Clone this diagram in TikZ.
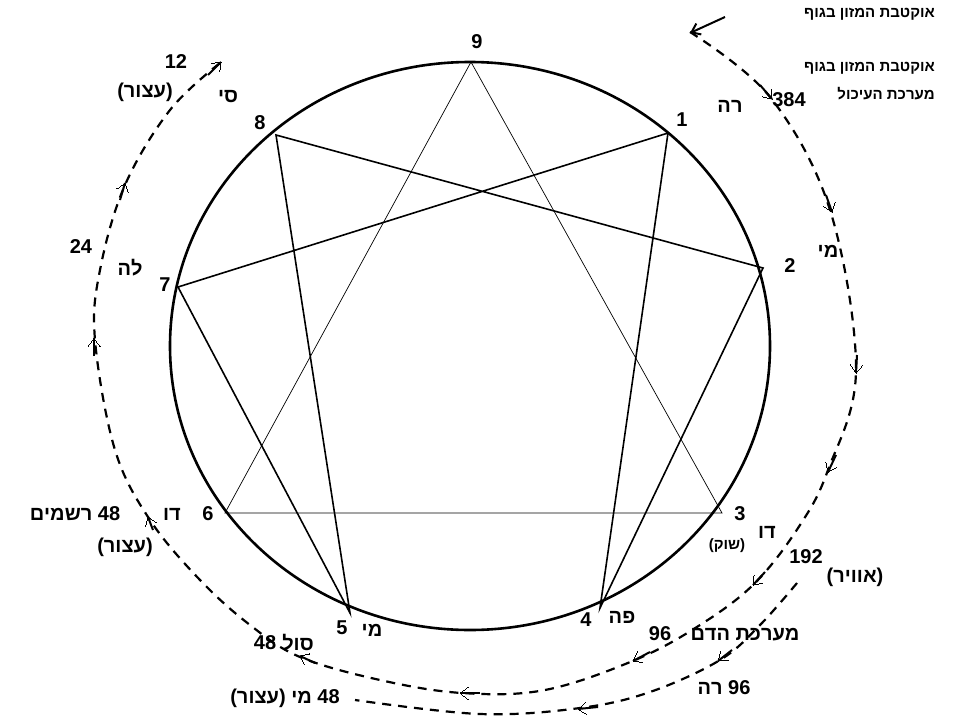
\documentclass[tikz,border=0pt]{standalone}
\usepackage{fontspec}
\setmainfont{Liberation Sans}
\TeXXeTstate=1
\usetikzlibrary{decorations.markings,arrows.meta}
\newcommand{\R}[1]{\beginR #1\endR}
\begin{document}
\begin{tikzpicture}[x=1pt,y=-1pt,
  lbl/.style={font=\bfseries\fontsize{20}{22}\selectfont,inner sep=0pt},
  sml/.style={font=\bfseries\fontsize{15}{17}\selectfont,inner sep=0pt},
  dsh/.style={line width=2.2pt,dash pattern=on 9pt off 7pt},
  ah/.style={-{Straight Barb[length=9pt,width=12pt,line width=1.8pt]}},
  star/.style={line width=1.6pt},
  thin/.style={line width=0.7pt}]
\useasboundingbox (0,0) rectangle (960,720);
\draw[line width=2.6pt] (470,346) ellipse [x radius=300, y radius=284];
\coordinate (p9) at (471,62);
\coordinate (p1) at (668,133);
\coordinate (p2) at (763,268);
\coordinate (p3) at (722,513);
\coordinate (p4) at (600,608);
\coordinate (p5) at (350,613);
\coordinate (p6) at (225,513);
\coordinate (p7) at (178,287);
\coordinate (p8) at (276,135);
\draw[thin] (p9)--(p3)--(p6)--cycle;
\draw[star] (p1)--(p4)--(p2)--(p8)--(p5)--(p7)--cycle;
% outer dashed curve
\draw[dsh] plot[smooth,tension=0.6] coordinates {(690,32) (770,97) (830,210) (856,370) (828,470) (800,525) (755,583) (700,625) (635,660) (545,690) (462,693) (380,680) (300,657) (250,625) (200,580) (150,520) (115,450) (95,340) (100,270) (125,185) (170,110) (220,63)};
% second dashed curve
\draw[dsh] plot[smooth,tension=0.6] coordinates {(797,583) (760,625) (720,660) (650,692) (580,708) (480,714) (355,700)};
% arrowheads
\foreach \a/\b in {{(760,85)}/{(772,99)},{(826,195)}/{(832,212)},{(857,355)}/{(856,373)},{(836,455)}/{(828,472)},{(765,572)}/{(753,585)},{(650,652)}/{(633,661)},{(480,693)}/{(460,693)},{(315,663)}/{(300,656)},{(153,530)}/{(148,517)},{(94,356)}/{(94,338)},{(120,200)}/{(125,183)},{(208,75)}/{(221,62)},{(732,650)}/{(718,661)},{(598,707)}/{(578,709)}}
  \draw[ah,line width=0pt,draw opacity=0] \a -- \b;
\foreach \a/\b in {{(760,85)}/{(772,99)},{(826,195)}/{(832,212)},{(857,355)}/{(856,373)},{(836,455)}/{(828,472)},{(765,572)}/{(753,585)},{(650,652)}/{(633,661)},{(480,693)}/{(460,693)},{(315,663)}/{(300,656)},{(153,530)}/{(148,517)},{(94,356)}/{(94,338)},{(120,200)}/{(125,183)},{(208,75)}/{(221,62)},{(732,650)}/{(718,661)},{(598,707)}/{(578,709)}}
  \draw[-{Straight Barb[length=8pt,width=12pt,line width=0pt]},line width=2pt] \a -- \b;
% solid pointer arrow
\node[sml,anchor=east] (t1) at (935,14) {\R{אוקטבת המזון בגוף}};
\coordinate (st) at (690,33);
\draw[-{Straight Barb[length=8pt,width=12pt]},line width=2pt] (725,17) -- (st);
\node[sml,anchor=east] (t2) at (935,68) {\R{אוקטבת המזון בגוף}};
\node[sml,anchor=east] (t3) at (935,94) {\R{מערכת העיכול}};
% numbers
\node[lbl] (n9) at (477,42) {9};
\node[lbl] (n1) at (682,120) {1};
\node[lbl] (n2) at (790,266) {2};
\node[lbl] (n3) at (740,514) {3};
\node[lbl] (n4) at (586,620) {4};
\node[lbl] (n5) at (342,628) {5};
\node[lbl] (n6) at (208,514) {6};
\node[lbl] (n7) at (165,285) {7};
\node[lbl] (n8) at (260,123) {8};
% notes
\node[lbl] (re) at (730,106) {\R{רה}};
\node[lbl] (n384) at (789,100) {384};
\node[lbl] (mi) at (828,251) {\R{מי}};
\node[lbl] (do3) at (767,532) {\R{דו}};
\node[sml] (shuk) at (727,546) {(\R{שוק})};
\node[lbl] (n192) at (806,557) {192};
\node[lbl] (avir) at (855,577) {(\R{אוויר})};
\node[lbl] (pe) at (622,617) {\R{פה}};
\node[lbl] (n96a) at (660,634) {96};
\node[lbl] (dam) at (745,635) {\R{מערכת הדם}};
\node[lbl] (re96) at (724,688) {\R{רה} 96};
\node[lbl] (mi5) at (372,630) {\R{מי}};
\node[lbl] (sol) at (298,643) {\R{סול}};
\node[lbl] (n48s) at (265,643) {48};
\node[lbl] (bot) at (285,698) {(\R{עצור}) \R{מי} 48};
\node[lbl] (do6) at (172,514) {\R{דו}};
\node[lbl] (r48) at (75,514) {\R{רשמים} 48};
\node[lbl] (az6) at (125,547) {(\R{עצור})};
\node[lbl] (la) at (130,268) {\R{לה}};
\node[lbl] (n24) at (81,247) {24};
\node[lbl] (si) at (228,97) {\R{סי}};
\node[lbl] (n12) at (176,62) {12};
\node[lbl] (az12) at (145,92) {(\R{עצור})};
\end{tikzpicture}
\end{document}
